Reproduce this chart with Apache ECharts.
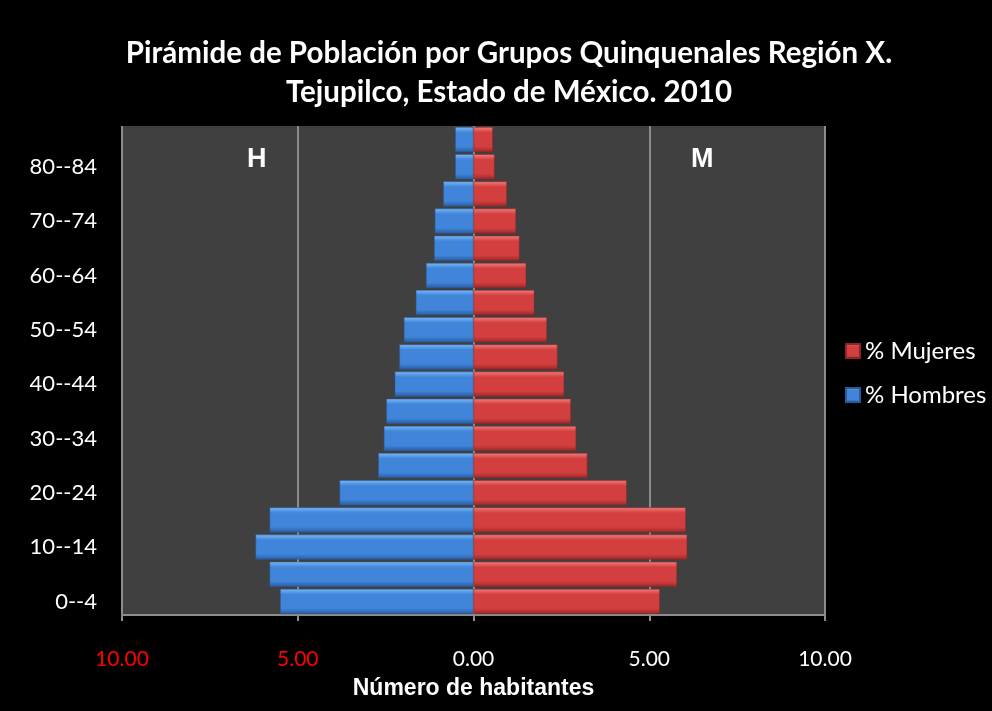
<!DOCTYPE html>
<html>
<head>
<meta charset="utf-8">
<script src="https://cdn.jsdelivr.net/npm/echarts@6/dist/echarts.min.js"></script>
<style>
  html, body { margin: 0; padding: 0; background: #000; }
  #chart { width: 992px; height: 711px; }
</style>
</head>
<body>
<div id="chart"></div>
<script>
// Five-year age groups, youngest first (bottom of the pyramid)
const ageGroups = ['0--4', '5--9', '10--14', '15--19', '20--24', '25--29', '30--34', '35--39',
  '40--44', '45--49', '50--54', '55--59', '60--64', '65--69', '70--74', '75--79', '80--84', '85 y más'];

// Share of population (%) by sex
const pctHombres = [5.50, 5.80, 6.20, 5.80, 3.81, 2.71, 2.55, 2.48, 2.24, 2.11,
  1.98, 1.64, 1.35, 1.12, 1.10, 0.86, 0.52, 0.52];
const pctMujeres = [5.30, 5.79, 6.08, 6.04, 4.36, 3.24, 2.92, 2.77, 2.58, 2.39,
  2.09, 1.73, 1.50, 1.31, 1.21, 0.95, 0.60, 0.55];

const xTicks = [-10, -5, 0, 5, 10];

const FONT = 'Lato, "Open Sans", sans-serif';

function bevel(light, mid, dark) {
  return new echarts.graphic.LinearGradient(0, 0, 0, 1, [
    { offset: 0, color: light },
    { offset: 0.22, color: mid },
    { offset: 0.78, color: mid },
    { offset: 1, color: dark }
  ]);
}

const chart = echarts.init(document.getElementById('chart'));
chart.setOption({
  backgroundColor: '#000',
  animation: false,
  title: {
    text: 'Pirámide de Población por Grupos Quinquenales Región X.\nTejupilco, Estado de México. 2010',
    left: 504, top: 29, textAlign: 'center',
    textStyle: { color: '#fff', fontFamily: FONT, fontWeight: 'bold', fontSize: 29.5, lineHeight: 39 }
  },
  legend: {
    orient: 'vertical', left: 840, top: 334, itemGap: 20,
    itemWidth: 14, itemHeight: 14, icon: 'rect',
    data: ['% Mujeres', '% Hombres'],
    textStyle: { color: '#fff', fontFamily: FONT, fontSize: 24 }
  },
  grid: { left: 122, right: 167, top: 126, bottom: 96, show: true, backgroundColor: '#404040', borderWidth: 0 },
  xAxis: {
    type: 'value', min: xTicks[0], max: xTicks[xTicks.length - 1], interval: 5,
    name: 'Número de habitantes', nameLocation: 'middle', nameGap: 62,
    nameTextStyle: { color: '#fff', fontFamily: 'Liberation Sans, Arial, sans-serif', fontWeight: 'bold', fontSize: 23 },
    axisLine: { show: true, lineStyle: { color: '#8c8c8c', width: 2 } },
    axisTick: { show: true, length: 6, lineStyle: { color: '#8c8c8c', width: 2 } },
    splitLine: { show: true, lineStyle: { color: '#8c8c8c', width: 2 } },
    axisLabel: {
      margin: 34, fontFamily: FONT, fontSize: 21,
      formatter: v => Math.abs(v).toFixed(2),
      color: v => (v < 0 ? '#ff0000' : '#ffffff')
    }
  },
  yAxis: {
    type: 'category', data: ageGroups,
    axisLine: { show: false }, axisTick: { show: false },
    axisLabel: { interval: 1, color: '#fff', fontFamily: FONT, fontSize: 22, margin: 25 }
  },
  series: [
    {
      name: '% Hombres', type: 'bar', barGap: '-100%', barCategoryGap: '8%',
      data: pctHombres.map(v => -v),
      itemStyle: { color: bevel('#7ab8f7', '#4085d9', '#285ca4'), borderColor: '#2b5a9c', borderWidth: 0.5 }
    },
    {
      name: '% Mujeres', type: 'bar', barGap: '-100%', barCategoryGap: '8%',
      data: pctMujeres,
      itemStyle: { color: bevel('#f47c7c', '#d33f3f', '#9e2727'), borderColor: '#8e2424', borderWidth: 0.5 }
    }
  ],
  graphic: [
    { type: 'text', left: 247, top: 146, style: { text: 'H', fill: '#fff', font: 'bold 27px "Liberation Sans", Arial, sans-serif' } },
    { type: 'text', left: 691, top: 146, style: { text: 'M', fill: '#fff', font: 'bold 27px "Liberation Sans", Arial, sans-serif' } }
  ]
});
</script>
</body>
</html>
